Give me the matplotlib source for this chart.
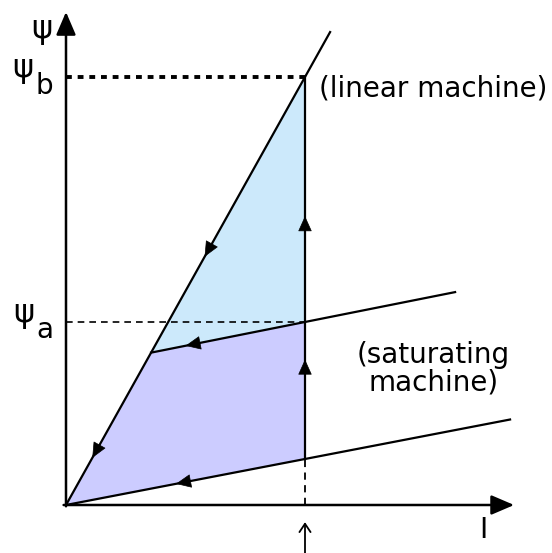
import matplotlib
matplotlib.use("Agg")
import matplotlib.pyplot as plt
import numpy as np

# Flux-linkage / current diagram (units: I0 = 1, psi_b = 1)
i_op = 1.0                 # operating current
psi_b = 1.0                # flux linkage of the linear machine at i_op
lin_end = 1.105            # extent of the linear characteristic
knee = 0.356               # current where the saturating curve leaves the linear one
psi_a = 0.4276             # flux linkage of the saturated machine at i_op
sat_end = 1.628            # extent of the saturated characteristic
low_slope = 0.1075         # slope of the unaligned (low) characteristic
low_end = 1.858            # extent of the low characteristic

lin_slope = psi_b / i_op
sat_slope = (psi_a - knee * lin_slope) / (i_op - knee)

def lin(x):
    return lin_slope * np.asarray(x)

def sat(x):
    return knee * lin_slope + sat_slope * (np.asarray(x) - knee)

def low(x):
    return low_slope * np.asarray(x)

fig = plt.figure(figsize=(5.52, 5.53), dpi=100)
ax = fig.add_axes([0, 0, 1, 1])
ax.set_xlim(-66 / 239, 486 / 239)
ax.set_ylim(-48 / 428, 505 / 428)
ax.axis("off")

blue = "#cce9fb"
purple = "#ccccff"

# shaded energy regions
ax.fill([knee, i_op, i_op], [lin(knee), psi_b, sat(i_op)], color=blue, lw=0, zorder=1)
ax.fill([0, knee, i_op, i_op], [0, lin(knee), sat(i_op), low(i_op)],
        color=purple, lw=0, zorder=1)

lw = 1.6
# characteristics
ax.plot([0, lin_end], [0, lin(lin_end)], color="black", lw=lw, zorder=3)
ax.plot([knee, sat_end], [sat(knee), sat(sat_end)], color="black", lw=lw, zorder=3)
ax.plot([0, low_end], [0, low(low_end)], color="black", lw=lw, zorder=3)
ax.plot([i_op, i_op], [low(i_op), psi_b], color="black", lw=lw, zorder=3)
ax.plot([i_op, i_op], [0, low(i_op)], color="black", lw=1.3,
        linestyle=(0, (4, 3)), zorder=3)

# reference levels
ax.plot([0, i_op], [psi_b, psi_b], color="black", lw=2.8,
        linestyle=(0, (1.5, 1.5)), zorder=2)
ax.plot([0, i_op], [psi_a, psi_a], color="black", lw=1.2,
        linestyle=(0, (4, 3)), zorder=2)

# axes with arrowheads
axis_style = dict(arrowstyle="-|>,head_length=1.4,head_width=0.6",
                  color="black", lw=1.8, shrinkA=0, shrinkB=0)
ax.annotate("", xy=(0, 1.152), xytext=(0, -0.003), arrowprops=axis_style, zorder=4)
ax.annotate("", xy=(1.875, 0), xytext=(-0.01, 0), arrowprops=axis_style, zorder=4)

# direction arrows on the cycle
def head(x0, y0, x1, y1):
    ax.annotate("", xy=(x1, y1), xytext=(x0, y0),
                arrowprops=dict(arrowstyle="-|>,head_length=1.0,head_width=0.45",
                                color="black", lw=0.5, shrinkA=0, shrinkB=0),
                zorder=5)

d = 0.03
head(0.58 + d, lin(0.58 + d), 0.58, lin(0.58))
head(0.11 + d, lin(0.11 + d), 0.11, lin(0.11))
head(i_op, 0.64, i_op, 0.675)
head(i_op, 0.305, i_op, 0.34)
head(0.51 + d, sat(0.51 + d), 0.50, sat(0.50))
head(0.47 + d, low(0.47 + d), 0.46, low(0.46))

fs = 20
pfs = 23
ax.text(-0.100, 1.110, "ψ", fontsize=pfs, ha="center", va="center")
ax.text(-0.180, 1.020, "ψ", fontsize=pfs, ha="center", va="center")
ax.text(-0.092, 0.980, "b", fontsize=fs, ha="center", va="center")
ax.text(-0.176, 0.448, "ψ", fontsize=pfs, ha="center", va="center")
ax.text(-0.088, 0.410, "a", fontsize=fs, ha="center", va="center")
ax.text(1.060, 0.972, "(linear machine)", fontsize=fs, ha="left", va="center")
ax.text(1.536, 0.318, "(saturating\nmachine)", fontsize=fs, ha="center",
        va="center", linespacing=1.0)
ax.text(1.745, -0.058, "I", fontsize=fs, ha="center", va="center")

# marker under the operating current
ax.annotate("", xy=(i_op, -0.040), xytext=(i_op, -0.115),
            arrowprops=dict(arrowstyle="->,head_length=0.6,head_width=0.4",
                            color="black", lw=1.3, shrinkA=0, shrinkB=0))

fig.savefig("out.png", dpi=100)
